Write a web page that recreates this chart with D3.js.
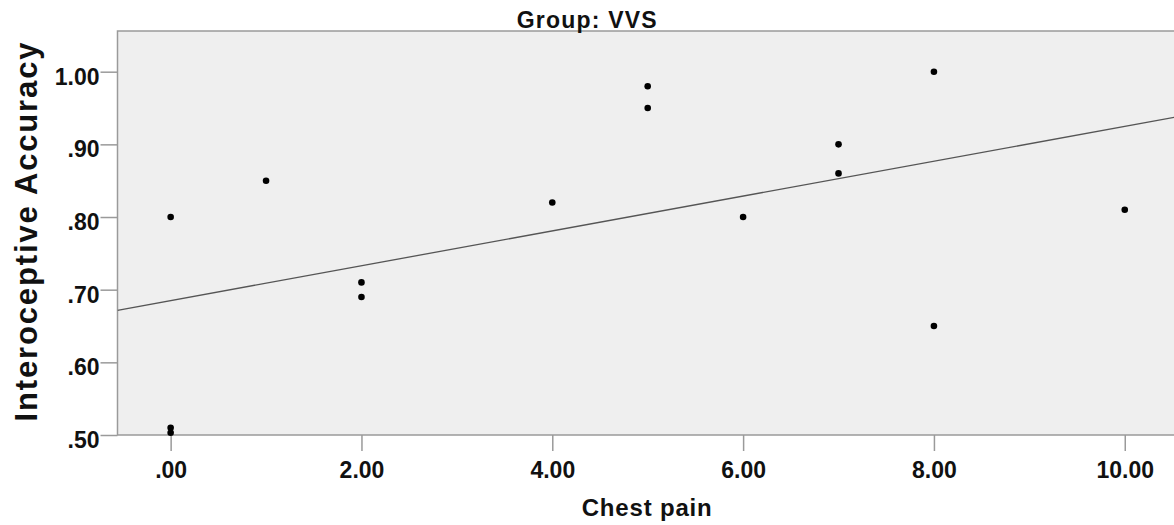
<!DOCTYPE html>
<html>
<head>
<meta charset="utf-8">
<script src="https://cdn.jsdelivr.net/npm/d3@7"></script>
<style>
  body { margin: 0; background: #fff; }
  svg text { font-family: "Liberation Sans", Arial, sans-serif; font-weight: bold; fill: #111; }
</style>
</head>
<body>
<div id="chart-container"></div>
<script>
// chest pain score per participant (group VVS)
var chest_pain = [0, 0, 0, 1, 2, 2, 4, 5, 5, 6, 7, 7, 8, 8, 10];
// interoceptive accuracy per participant
var accuracy = [0.80, 0.51, 0.503, 0.85, 0.71, 0.69, 0.82, 0.98, 0.95, 0.80, 0.90, 0.86, 1.00, 0.65, 0.81];
var x_ticks = [0, 2, 4, 6, 8, 10];
var y_ticks = [0.5, 0.6, 0.7, 0.8, 0.9, 1.0];

var svg_width = 1174;
var svg_height = 525;
var plot = {left: 117.5, top: 31, right: 1182, bottom: 435};

var svg = d3.select("#chart-container")
	.append("svg")
	.attr("width", svg_width)
	.attr("height", svg_height);

var x = d3.scaleLinear()
	.domain([-0.557, 10.6])
	.range([plot.left, plot.right]);

var y = d3.scaleLinear()
	.domain([0.5, 1.056])
	.range([plot.bottom, plot.top]);

var fmt = function(d) { return d3.format(".2f")(d).replace(/^0\./, "."); };

svg.append("rect")
	.attr("x", plot.left)
	.attr("y", plot.top)
	.attr("width", plot.right - plot.left)
	.attr("height", plot.bottom - plot.top)
	.attr("fill", "#efefef")
	.attr("stroke", "#9a9a9a")
	.attr("stroke-width", 1.5);

var x_axis = svg.append("g")
	.attr("transform", "translate(0," + plot.bottom + ")")
	.call(d3.axisBottom(x).tickValues(x_ticks).tickSize(16).tickPadding(11).tickFormat(fmt));

var y_axis = svg.append("g")
	.attr("transform", "translate(" + plot.left + ",0)")
	.call(d3.axisLeft(y).tickValues(y_ticks).tickSize(17).tickPadding(1).tickFormat(fmt));

[x_axis, y_axis].forEach(function(ax) {
	ax.select(".domain").remove();
	ax.selectAll(".tick line").attr("stroke", "#9a9a9a").attr("stroke-width", 1.5);
	ax.selectAll(".tick text")
		.style("font-size", "23px")
		.attr("fill", "#111");
});
y_axis.selectAll(".tick text").attr("dy", "0.72em").attr("y", -4);

// least squares fit line
var mx = d3.mean(chest_pain), my = d3.mean(accuracy);
var sxy = d3.sum(chest_pain, function(v, i) { return (v - mx) * (accuracy[i] - my); });
var sxx = d3.sum(chest_pain, function(v) { return (v - mx) * (v - mx); });
var slope = sxy / sxx;
var intercept = my - slope * mx;

svg.append("clipPath").attr("id", "plot-clip")
	.append("rect")
	.attr("x", plot.left).attr("y", plot.top)
	.attr("width", plot.right - plot.left).attr("height", plot.bottom - plot.top);

var xd = x.domain();
svg.append("line")
	.attr("clip-path", "url(#plot-clip)")
	.attr("x1", x(xd[0])).attr("y1", y(intercept + slope * xd[0]))
	.attr("x2", x(xd[1])).attr("y2", y(intercept + slope * xd[1]))
	.attr("stroke", "#555")
	.attr("stroke-width", 1.3);

svg.selectAll(".pt")
	.data(chest_pain)
	.enter()
	.append("circle")
	.attr("class", "pt")
	.attr("cx", function(d) { return x(d); })
	.attr("cy", function(d, i) { return y(accuracy[i]); })
	.attr("r", 3.3)
	.attr("fill", "#000");

svg.append("text")
	.attr("x", 586.7)
	.attr("y", 28)
	.attr("text-anchor", "middle")
	.style("font-size", "23px")
	.attr("textLength", 140)
	.attr("lengthAdjust", "spacing")
	.text("Group: VVS");

svg.append("text")
	.attr("x", 646.7)
	.attr("y", 516)
	.attr("text-anchor", "middle")
	.style("font-size", "24px")
	.attr("textLength", 130)
	.attr("lengthAdjust", "spacing")
	.text("Chest pain");

svg.append("text")
	.attr("transform", "translate(37,232) rotate(-90)")
	.attr("text-anchor", "middle")
	.style("font-size", "31px")
	.attr("textLength", 379)
	.attr("lengthAdjust", "spacing")
	.text("Interoceptive Accuracy");
</script>
</body>
</html>
